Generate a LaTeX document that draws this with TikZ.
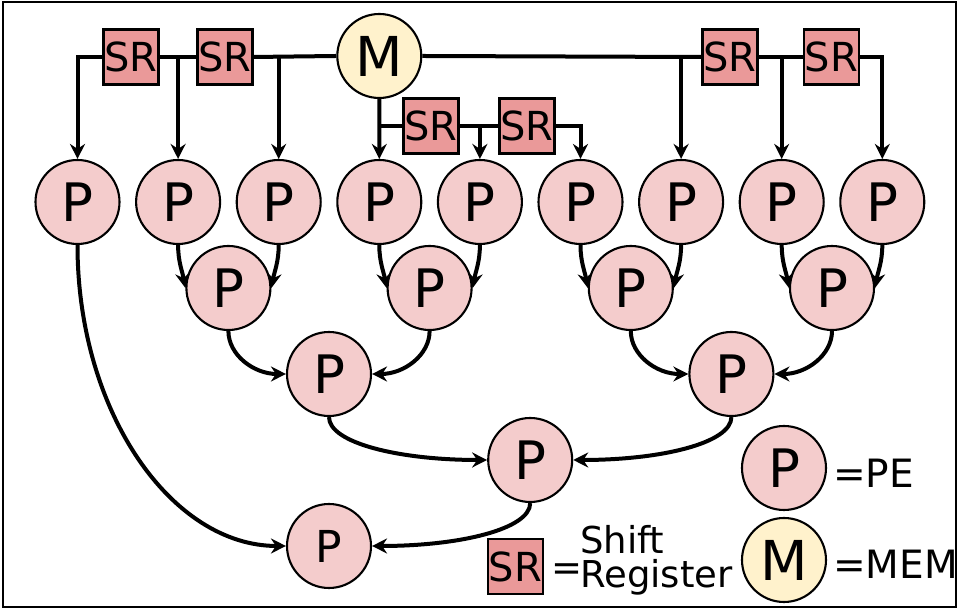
\documentclass[tikz,border=0pt]{standalone}
\usepackage{fontspec}
\setmainfont{DejaVu Sans}
\usetikzlibrary{arrows.meta}
\definecolor{pefill}{HTML}{F4CCCC}
\definecolor{srfill}{HTML}{EA9999}
\definecolor{memfill}{HTML}{FFF2CC}

\begin{document}
\begin{tikzpicture}[x=1pt,y=1pt,
  pe/.style={circle,draw,line width=2.1pt,fill=pefill,minimum size=84pt,
    inner sep=0pt,font=\fontsize{53}{53}\selectfont},
  pesmall/.style={pe,font=\fontsize{44}{44}\selectfont},
  mem/.style={circle,draw,line width=2.1pt,fill=memfill,minimum size=84pt,
    inner sep=0pt,font=\fontsize{55}{55}\selectfont},
  srbox/.style={rectangle,draw,line width=2.1pt,fill=srfill,minimum size=55pt,
    inner sep=0pt,font=\fontsize{40}{40}\selectfont},
  wire/.style={line width=4pt},
  arr/.style={line width=4pt,-{Stealth[length=15pt,width=15pt,inset=5pt]}},
  lbl/.style={inner sep=0pt,anchor=base west,font=\fontsize{39}{39}\selectfont}]

\useasboundingbox (0,0) rectangle (959,609);
\draw[line width=2.4pt] (3,2) rectangle (956,607);

% first row of processing elements
\foreach \i in {1,...,9}
  \node[pe] (p\i) at ({77.5+100.6*(\i-1)},407) {P};

% reduction tree
\node[pe] (q1) at (228.4,321) {P};
\node[pe] (q2) at (429.6,321) {P};
\node[pe] (q3) at (630.8,321) {P};
\node[pe] (q4) at (832.0,321) {P};
\node[pe] (r1) at (329.0,235) {P};
\node[pe] (r2) at (731.4,235) {P};
\node[pe] (s1) at (530.2,149) {P};
\node[pesmall] (t1) at (329.0,63) {P};

% memory and shift registers
\node[mem] (M) at (379.3,553) {M};
\node[srbox] (srA) at (131,552) {SR};
\node[srbox] (srB) at (225,552) {SR};
\node[srbox] (srC) at (730,552) {SR};
\node[srbox] (srD) at (831.5,552) {SR};
\node[srbox] (srE) at (431,483) {SR};
\node[srbox] (srF) at (527,483) {SR};

% distribution bus, left side
\draw[arr] (srA.west) -| (p1.north);
\draw[wire] (srA.east) -- (srB.west);
\draw[arr] (p2.north |- srA.center) -- (p2.north);
\draw[wire] (srB.east) -- (M.west);
\draw[arr] (p3.north |- srB.center) -- (p3.north);

% distribution bus, right side
\draw[wire] (M.east) -- (srC.west);
\draw[arr] (p7.north |- srC.center) -- (p7.north);
\draw[wire] (srC.east) -- (srD.west);
\draw[arr] (p8.north |- srD.center) -- (p8.north);
\draw[arr] (srD.east) -| (p9.north);

% distribution bus, middle
\draw[arr] (M.south) -- (p4.north);
\draw[wire] (p4.north |- srE.center) -- (srE.west);
\draw[wire] (srE.east) -- (srF.west);
\draw[arr] (p5.north |- srF.center) -- (p5.north);
\draw[arr] (srF.east) -| (p6.north);

% first reduction level
\draw[arr] (p2.south) to[out=-90,in=100] (q1.west);
\draw[arr] (p3.south) to[out=-90,in=80] (q1.east);
\draw[arr] (p4.south) to[out=-90,in=100] (q2.west);
\draw[arr] (p5.south) to[out=-90,in=80] (q2.east);
\draw[arr] (p6.south) to[out=-90,in=100] (q3.west);
\draw[arr] (p7.south) to[out=-90,in=80] (q3.east);
\draw[arr] (p8.south) to[out=-90,in=100] (q4.west);
\draw[arr] (p9.south) to[out=-90,in=80] (q4.east);

% deeper levels
\draw[arr] (q1.south) to[out=-90,in=180,out distance=24pt,in distance=32pt] (r1.west);
\draw[arr] (q2.south) to[out=-90,in=0,out distance=24pt,in distance=32pt] (r1.east);
\draw[arr] (q3.south) to[out=-90,in=180,out distance=24pt,in distance=32pt] (r2.west);
\draw[arr] (q4.south) to[out=-90,in=0,out distance=24pt,in distance=32pt] (r2.east);
\draw[arr] (r1.south) to[out=-90,in=180,out distance=26pt,in distance=88pt] (s1.west);
\draw[arr] (r2.south) to[out=-90,in=0,out distance=26pt,in distance=88pt] (s1.east);
\draw[arr] (p1.south) to[out=-90,in=180,out distance=166pt,in distance=115pt] (t1.west);
\draw[arr] (s1.south) to[out=-90,in=0,out distance=26pt,in distance=88pt] (t1.east);

% legend
\node[pe] (lp) at (784,141) {P};
\node[lbl] (lpt) at (833,121) {=PE};
\node[mem] (lm) at (784,49) {M};
\node[lbl] (lmt) at (833,30) {=MEM};
\node[srbox] (lsr) at (515.5,42.5) {SR};
\node[lbl,font=\fontsize{37}{37}\selectfont] (lsreq) at (551,28) {=};
\node[lbl,align=left,font=\fontsize{37}{34}\selectfont] (lsrt) at (580,21) {Shift\\Register};
\end{tikzpicture}
\end{document}
